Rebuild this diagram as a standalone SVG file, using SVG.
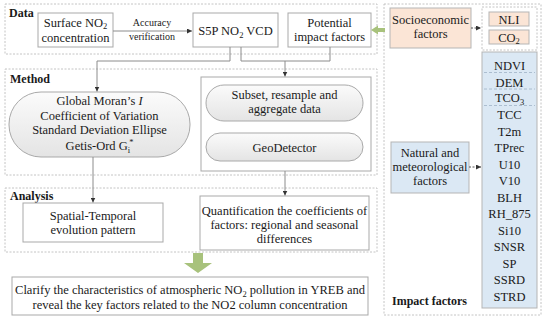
<svg xmlns="http://www.w3.org/2000/svg" width="550" height="321" viewBox="0 0 550 321" font-family="'Liberation Serif','Times New Roman',serif">
<defs>
<style>
text{font-family:"Liberation Serif","Times New Roman",serif;font-size:12.5px;fill:#1a1a1a}
.c{text-anchor:middle}
.b{font-weight:bold;font-size:12px}
.s{font-size:10px}
.sub{font-size:8.5px}
.grp{fill:none;stroke:#c4c4c4;stroke-width:1;stroke-dasharray:2,1.5}
.box{fill:#fff;stroke:#a9a9a9;stroke-width:1}
.pill{fill:url(#pg);stroke:#a9a9a9;stroke-width:1}
.peach{fill:#fbe5d6;stroke:#b5b5b5;stroke-width:1}
.blue{fill:#dbe8f4;stroke:#b5b5b5;stroke-width:1}
.con{fill:none;stroke:#8c8c8c;stroke-width:1}
.dcon{fill:none;stroke:#555;stroke-width:1;stroke-dasharray:2,1.5}
.sep{stroke:#9fb3c6;stroke-width:0.8;stroke-dasharray:3,2}
.green{fill:#a8c27c}
</style>
<linearGradient id="pg" x1="0" y1="0" x2="0" y2="1">
<stop offset="0" stop-color="#fbfbfb"/>
<stop offset="1" stop-color="#e4e4e4"/>
</linearGradient>
<marker id="ah" viewBox="0 0 6 6" refX="6" refY="3" markerWidth="5" markerHeight="5" orient="auto" markerUnits="userSpaceOnUse">
<path d="M0,0 L6,3 L0,6 z" fill="#333"/>
</marker>
</defs>

<rect width="550" height="321" fill="#fff"/>

<!-- group frames -->
<g id="data-group">
<rect class="grp" x="5" y="4" width="372" height="50"/>
<text class="b" x="9" y="17">Data</text>
</g>
<g id="method-group">
<rect class="grp" x="5" y="69" width="372" height="106"/>
<text class="b" x="10" y="83">Method</text>
</g>
<g id="analysis-group">
<rect class="grp" x="5" y="188" width="372" height="64"/>
<text class="b" x="10" y="200">Analysis</text>
</g>
<g id="impact-group">
<rect class="grp" x="384" y="4" width="157" height="311"/>
<text class="b" x="392" y="305">Impact factors</text>
</g>

<!-- Data nodes -->
<g id="surface-no2">
<rect class="box" x="38" y="13" width="75" height="34"/>
<text class="c" x="75.5" y="26.5">Surface NO<tspan class="sub" dy="2.5">2</tspan></text>
<text class="c" x="75.5" y="41.5">concentration</text>
</g>
<g id="accuracy-label">
<text class="c s" x="152" y="25.5">Accuracy</text>
<text class="c s" x="152" y="40">verification</text>
</g>
<g id="s5p">
<rect class="box" x="193" y="13" width="85" height="34"/>
<text class="c" x="235.5" y="35">S5P NO<tspan class="sub" dy="2.5">2</tspan><tspan dy="-2.5"> VCD</tspan></text>
</g>
<g id="potential">
<rect class="box" x="288" y="13" width="83" height="34"/>
<text class="c" x="329.5" y="27">Potential</text>
<text class="c" x="329.5" y="41">impact factors</text>
</g>

<!-- Method nodes -->
<g id="spatial-methods">
<rect class="pill" x="9" y="92" width="181" height="65" rx="32" ry="32"/>
<text class="c" x="99.5" y="104.5">Global Moran’s <tspan font-style="italic">I</tspan></text>
<text class="c" x="99.5" y="119.5">Coefficient of Variation</text>
<text class="c" x="99.5" y="134">Standard Deviation Ellipse</text>
<text class="c" x="99.5" y="150">Getis-Ord G<tspan class="sub" dy="2.5">i</tspan><tspan class="sub" dy="-7.5" dx="-1">*</tspan></text>
</g>
<g id="geo-methods">
<rect class="box" x="201" y="77" width="170" height="94" stroke="#b0b0b0"/>
</g>
<g id="subset">
<rect class="pill" x="206" y="85" width="157" height="36" rx="18" ry="18"/>
<text class="c" x="284.5" y="98.5">Subset, resample and</text>
<text class="c" x="284.5" y="112.5">aggregate data</text>
</g>
<g id="geodetector">
<rect class="pill" x="206" y="133" width="157" height="28" rx="14" ry="14"/>
<text class="c" x="284.5" y="151.5">GeoDetector</text>
</g>

<!-- Analysis nodes -->
<g id="spatial-temporal">
<rect class="box" x="23" y="203" width="140" height="39"/>
<text class="c" x="93" y="220">Spatial-Temporal</text>
<text class="c" x="93" y="234">evolution pattern</text>
</g>
<g id="quantification">
<rect class="box" x="200" y="196" width="169" height="54"/>
<text class="c" x="284.5" y="214.5">Quantification the coefficients of</text>
<text class="c" x="284.5" y="229">factors: regional and seasonal</text>
<text class="c" x="284.5" y="243">differences</text>
</g>

<!-- Conclusion -->
<g id="conclusion">
<rect class="box" x="12" y="277" width="356" height="38"/>
<text class="c" x="190" y="294">Clarify the characteristics of atmospheric NO<tspan class="sub" dy="2.5">2</tspan><tspan dy="-2.5"> pollution in YREB and</tspan></text>
<text class="c" x="190" y="308.5">reveal the key factors related to the NO2 column concentration</text>
</g>

<!-- Impact factor nodes -->
<g id="socioeconomic">
<rect class="peach" x="390" y="8" width="81" height="40"/>
<text class="c" x="430.5" y="24">Socioeconomic</text>
<text class="c" x="430.5" y="38">factors</text>
</g>
<g id="socio-list">
<rect class="grp" x="482" y="7" width="55" height="43"/>
<rect class="peach" x="489" y="12" width="40" height="14"/>
<text class="c" x="509" y="23.5">NLI</text>
<rect class="peach" x="489" y="30" width="40" height="14"/>
<text class="c" x="509" y="41.5">CO<tspan class="sub" dy="2.5">2</tspan></text>
</g>
<g id="natural">
<rect class="blue" x="391" y="142" width="78" height="51"/>
<text class="c" x="430" y="157">Natural and</text>
<text class="c" x="430" y="171">meteorological</text>
<text class="c" x="430" y="185">factors</text>
</g>
<g id="natural-list">
<rect class="blue" x="482" y="52" width="55" height="256"/>
<line class="sep" x1="484" y1="72.5" x2="535" y2="72.5"/>
<line class="sep" x1="484" y1="89" x2="535" y2="89"/>
<line class="sep" x1="484" y1="105.5" x2="535" y2="105.5"/>
<text class="c" x="509.5" y="70">NDVI</text>
<text class="c" x="509.5" y="86.5">DEM</text>
<text class="c" x="509.5" y="102">TCO<tspan class="sub" dy="2.5">3</tspan></text>
<text class="c" x="509.5" y="119">TCC</text>
<text class="c" x="509.5" y="135.5">T2m</text>
<text class="c" x="509.5" y="152">TPrec</text>
<text class="c" x="509.5" y="168.5">U10</text>
<text class="c" x="509.5" y="185">V10</text>
<text class="c" x="509.5" y="201.5">BLH</text>
<text class="c" x="509.5" y="218">RH_875</text>
<text class="c" x="509.5" y="234.5">Si10</text>
<text class="c" x="509.5" y="251">SNSR</text>
<text class="c" x="509.5" y="267.5">SP</text>
<text class="c" x="509.5" y="284">SSRD</text>
<text class="c" x="509.5" y="300.5">STRD</text>
</g>

<!-- connectors -->
<g id="connectors">
<path class="con" d="M113,31 H192" marker-end="url(#ah)"/>
<path class="con" d="M230,47 V61 H97 V91.5" marker-end="url(#ah)"/>
<path class="con" d="M241,47 V61 H330 V47"/>
<path class="con" d="M285,61 V76.5" marker-end="url(#ah)"/>
<path class="con" d="M93,157 V202.5" marker-end="url(#ah)"/>
<path class="con" d="M285,171 V195.5" marker-end="url(#ah)"/>
<path class="dcon" d="M471,28 H481" marker-end="url(#ah)"/>
<path class="dcon" d="M469,167 H481" marker-end="url(#ah)"/>
<path class="green" d="M385,28 H378 V25.5 L371,30 L378,34.5 V32 H385 z"/>
<path class="green" d="M193,253 H203 V263 H212 L198,273 L184,263 H193 z"/>
</g>
</svg>
